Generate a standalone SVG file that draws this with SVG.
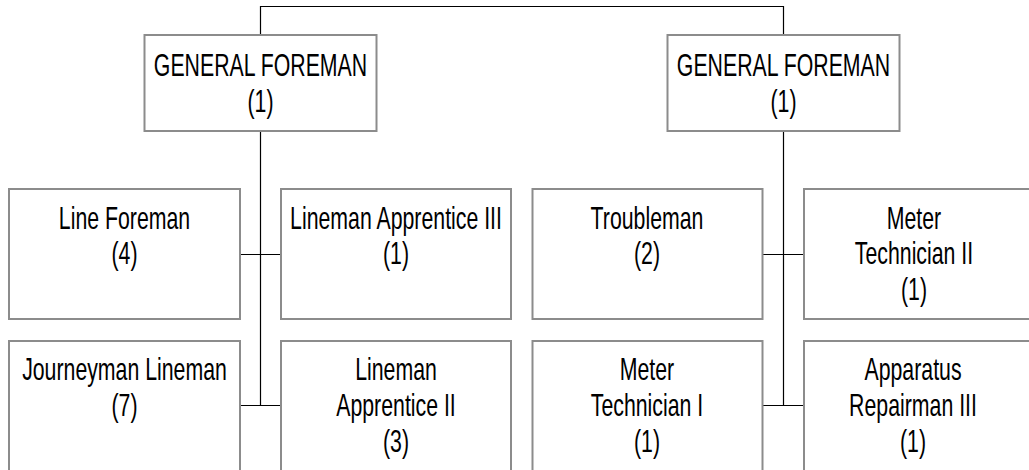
<svg xmlns="http://www.w3.org/2000/svg" width="1029" height="470" viewBox="0 0 1029 470">
  <style>
    .box { fill: #ffffff; stroke: #8c8c8c; stroke-width: 2; }
    .wire { fill: none; stroke: #000000; stroke-width: 1.2; }
    .label { font-family: "Liberation Sans", Arial, sans-serif; font-size: 21.3px; fill: #000000; text-anchor: middle; }
  </style>
  <rect width="1029" height="470" fill="#ffffff"/>

  <!-- connectors: top bridge, two trunks, and the side branches -->
  <g id="connectors">
    <path class="wire" d="M260.5,35 V6.5 H783.5 V35"/>
    <path class="wire" d="M260.5,131 V405.5"/>
    <path class="wire" d="M783.5,131 V405.5"/>
    <path class="wire" d="M240,254.5 H281"/>
    <path class="wire" d="M240,405.5 H281"/>
    <path class="wire" d="M762.5,254.5 H804"/>
    <path class="wire" d="M762.5,405.5 H804"/>
  </g>

  <!-- left branch -->
  <g id="gf-left">
    <rect class="box" x="144.5" y="35" width="232" height="96"/>
    <text class="label" transform="translate(260.5,76) scale(1,1.5)"><tspan x="0" y="0">GENERAL FOREMAN</tspan><tspan x="0" dy="24">(1)</tspan></text>
  </g>
  <g id="line-foreman">
    <rect class="box" x="9" y="189" width="231" height="130"/>
    <text class="label" transform="translate(124.5,228.5) scale(1,1.5)"><tspan x="0" y="0">Line Foreman</tspan><tspan x="0" dy="24">(4)</tspan></text>
  </g>
  <g id="lineman-apprentice-3">
    <rect class="box" x="281" y="189" width="230" height="130"/>
    <text class="label" transform="translate(396,228.5) scale(1,1.5)"><tspan x="0" y="0">Lineman Apprentice III</tspan><tspan x="0" dy="24">(1)</tspan></text>
  </g>
  <g id="journeyman-lineman">
    <rect class="box" x="9" y="341" width="231" height="134"/>
    <text class="label" transform="translate(124.5,380) scale(1,1.5)"><tspan x="0" y="0">Journeyman Lineman</tspan><tspan x="0" dy="24">(7)</tspan></text>
  </g>
  <g id="lineman-apprentice-2">
    <rect class="box" x="281" y="341" width="230" height="134"/>
    <text class="label" transform="translate(396,380) scale(1,1.5)"><tspan x="0" y="0">Lineman</tspan><tspan x="0" dy="24">Apprentice II</tspan><tspan x="0" dy="24">(3)</tspan></text>
  </g>

  <!-- right branch -->
  <g id="gf-right">
    <rect class="box" x="667.5" y="35" width="232" height="96"/>
    <text class="label" transform="translate(783.5,76) scale(1,1.5)"><tspan x="0" y="0">GENERAL FOREMAN</tspan><tspan x="0" dy="24">(1)</tspan></text>
  </g>
  <g id="troubleman">
    <rect class="box" x="532.5" y="189" width="230" height="130"/>
    <text class="label" transform="translate(647,228.5) scale(1,1.5)"><tspan x="0" y="0">Troubleman</tspan><tspan x="0" dy="24">(2)</tspan></text>
  </g>
  <g id="meter-technician-2">
    <rect class="box" x="804" y="189" width="232" height="130"/>
    <text class="label" transform="translate(914,228.5) scale(1,1.5)"><tspan x="0" y="0">Meter</tspan><tspan x="0" dy="24">Technician II</tspan><tspan x="0" dy="24">(1)</tspan></text>
  </g>
  <g id="meter-technician-1">
    <rect class="box" x="532.5" y="341" width="230" height="134"/>
    <text class="label" transform="translate(647,380) scale(1,1.5)"><tspan x="0" y="0">Meter</tspan><tspan x="0" dy="24">Technician I</tspan><tspan x="0" dy="24">(1)</tspan></text>
  </g>
  <g id="apparatus-repairman-3">
    <rect class="box" x="804" y="341" width="232" height="134"/>
    <text class="label" transform="translate(913,380) scale(1,1.5)"><tspan x="0" y="0">Apparatus</tspan><tspan x="0" dy="24">Repairman III</tspan><tspan x="0" dy="24">(1)</tspan></text>
  </g>
</svg>
